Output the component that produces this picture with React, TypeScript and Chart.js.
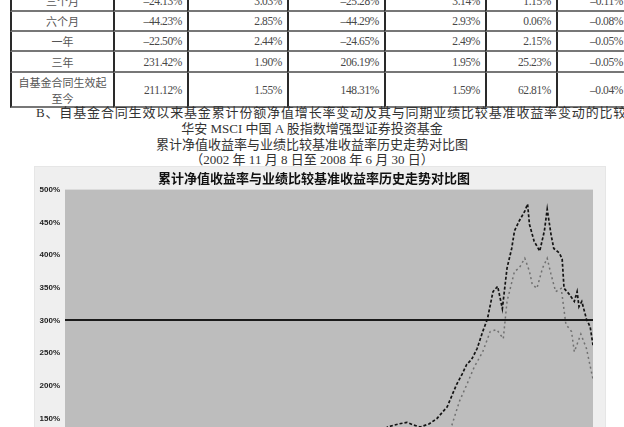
import React, { useEffect, useRef } from "react";
import { Chart, registerables } from "chart.js";

Chart.register(...registerables);

// ---- table data ----
const periods = ["三个月", "六个月", "一年", "三年", "自基金合同生效起\n至今"];
const navGrowth = ["–24.13%", "–44.23%", "–22.50%", "231.42%", "211.12%"];
const navStd = ["3.03%", "2.85%", "2.44%", "1.90%", "1.55%"];
const benchReturn = ["–25.28%", "–44.29%", "–24.65%", "206.19%", "148.31%"];
const benchStd = ["3.14%", "2.93%", "2.49%", "1.95%", "1.59%"];
const diffReturn = ["1.15%", "0.06%", "2.15%", "25.23%", "62.81%"];
const diffStd = ["–0.11%", "–0.08%", "–0.05%", "–0.05%", "–0.04%"];

// ---- chart data (x = decimal year) ----
const fundDates = [2002.85, 2003.0, 2003.2, 2003.35, 2003.6, 2003.85, 2004.05, 2004.25, 2004.5, 2004.75, 2005.0, 2005.2, 2005.45, 2005.65, 2005.9, 2006.05, 2006.18, 2006.3, 2006.43, 2006.51, 2006.58, 2006.65, 2006.75, 2006.83, 2006.94, 2006.99, 2007.04, 2007.1, 2007.15, 2007.2, 2007.26, 2007.32, 2007.37, 2007.43, 2007.48, 2007.53, 2007.58, 2007.63, 2007.66, 2007.71, 2007.77, 2007.8, 2007.82, 2007.87, 2007.93, 2007.98, 2008.01, 2008.05, 2008.08, 2008.14, 2008.17, 2008.19, 2008.24, 2008.3, 2008.33, 2008.35, 2008.38, 2008.43, 2008.47, 2008.5];
const fundReturns = [0, -3, 6, 10, 2, -4, 8, 14, 0, -6, -10, -14, -18, -10, -4, 40, 95, 137, 142, 144, 140, 137, 142, 150, 168, 185, 202, 218, 233, 240, 257, 283, 302, 344, 352, 318, 380, 410, 437, 452, 467, 478, 447, 421, 406, 437, 470, 432, 410, 403, 394, 349, 341, 329, 344, 321, 329, 302, 290, 262];

const benchDates = [2002.85, 2003.0, 2003.2, 2003.35, 2003.6, 2003.85, 2004.05, 2004.25, 2004.5, 2004.75, 2005.0, 2005.2, 2005.45, 2005.65, 2005.9, 2006.05, 2006.18, 2006.3, 2006.43, 2006.55, 2006.65, 2006.75, 2006.86, 2006.99, 2007.07, 2007.15, 2007.23, 2007.32, 2007.4, 2007.47, 2007.54, 2007.58, 2007.66, 2007.71, 2007.77, 2007.82, 2007.85, 2007.9, 2007.96, 2008.01, 2008.05, 2008.1, 2008.16, 2008.21, 2008.27, 2008.3, 2008.37, 2008.43, 2008.47, 2008.5];
const benchReturns = [0, -5, 3, 6, -3, -9, 2, 7, -6, -12, -16, -20, -26, -16, -12, 25, 75, 100, 108, 112, 106, 110, 118, 140, 176, 202, 229, 252, 283, 286, 272, 329, 375, 380, 395, 375, 355, 349, 380, 395, 371, 344, 349, 294, 283, 252, 279, 257, 230, 210];

const yMin = -100;
const yMax = 500;
const yStep = 50;
const referenceLine = 300;
const chartTitle = "累计净值收益率与业绩比较基准收益率历史走势对比图";

const colWidths = [103, 74, 100, 97, 101, 71, 72];
const rowHeights = [21, 20, 20, 21, 35];

const bgPlugin = {
  id: "plotBg",
  beforeDraw(chart: any) {
    const { ctx, chartArea } = chart;
    ctx.save();
    ctx.fillStyle = "#bdbdbd";
    ctx.fillRect(chartArea.left, chartArea.top, chartArea.right - chartArea.left, chartArea.bottom - chartArea.top);
    ctx.restore();
  },
};

function ReturnChart() {
  const ref = useRef<HTMLCanvasElement | null>(null);
  useEffect(() => {
    if (!ref.current) return;
    const chart = new Chart(ref.current, {
      type: "line",
      data: {
        datasets: [
          {
            label: "基金累计净值收益率",
            data: fundDates.map((x, i) => ({ x, y: fundReturns[i] })),
            borderColor: "#141414",
            borderWidth: 1.7,
            borderDash: [3, 2],
            pointRadius: 0,
            tension: 0,
          },
          {
            label: "业绩比较基准收益率",
            data: benchDates.map((x, i) => ({ x, y: benchReturns[i] })),
            borderColor: "#707070",
            borderWidth: 1.5,
            borderDash: [2, 3],
            pointRadius: 0,
            tension: 0,
          },
        ],
      },
      options: {
        animation: false,
        responsive: false,
        maintainAspectRatio: false,
        layout: { padding: { top: 0, right: 12, bottom: 20, left: 0 } },
        plugins: {
          legend: { display: false },
          tooltip: { enabled: false },
          title: {
            display: true,
            text: chartTitle,
            color: "#111",
            font: { size: 13, weight: "bold", family: "'Noto Sans CJK SC'" },
            padding: { top: 3, bottom: 4 },
          },
        },
        scales: {
          x: { type: "linear", min: 2002.85, max: 2008.5, display: false },
          y: {
            min: yMin,
            max: yMax,
            ticks: {
              stepSize: yStep,
              callback: (v: any) => v + "%",
              color: "#222",
              font: { size: 8, weight: "bold", family: "'Liberation Sans'" },
              padding: 5,
            },
            grid: {
              drawTicks: false,
              lineWidth: 2,
              color: (c: any) => (c.tick && c.tick.value === referenceLine ? "#1a1a1a" : "rgba(0,0,0,0)"),
            },
            border: { display: false },
            afterFit: (s: any) => {
              s.width = 30;
            },
          },
        },
      } as any,
      plugins: [bgPlugin],
    });
    return () => chart.destroy();
  }, []);
  return <canvas ref={ref} width={570} height={435} style={{ width: 570, height: 435, display: "block" }} />;
}

export default function App() {
  const cols = [periods, navGrowth, navStd, benchReturn, benchStd, diffReturn, diffStd];
  const cells: React.ReactNode[] = [];
  let top = -9;
  rowHeights.forEach((h, r) => {
    let left = 10;
    colWidths.forEach((w, c) => {
      const text = cols[c][r];
      const isFirst = c === 0;
      cells.push(
        <div
          key={r + "-" + c}
          style={{
            position: "absolute",
            left,
            top,
            width: w,
            height: h,
            boxSizing: "border-box",
            borderLeft: "2px solid #2a2a2a",
            borderBottom: "2px solid #777",
            display: "flex",
            alignItems: "center",
            justifyContent: isFirst ? "center" : "flex-end",
            paddingRight: isFirst ? 0 : 5,
            textAlign: "center",
            whiteSpace: "pre-line",
            fontFamily: isFirst ? "'Noto Sans CJK SC'" : "'Liberation Serif', serif",
            fontSize: isFirst ? 11 : 11.5,
            lineHeight: isFirst ? "16px" : "14px",
            letterSpacing: isFirst ? 0 : -0.4,
            color: isFirst ? "#555" : "#484848",
          }}
        >
          {text}
        </div>
      );
      left += w;
    });
    top += h;
  });

  const textBase: React.CSSProperties = {
    position: "absolute",
    whiteSpace: "nowrap",
    fontFamily: "'Liberation Serif', 'Noto Sans CJK SC', serif",
    fontSize: 13,
    lineHeight: "15px",
    color: "#333",
  };

  return (
    <div style={{ position: "fixed", left: 0, top: 0, width: 624, height: 427, overflow: "hidden", background: "#fff" }}>
      {cells}
      <div style={{ ...textBase, left: 36, top: 105, letterSpacing: 0.85 }}>
        B、自基金合同生效以来基金累计份额净值增长率变动及其与同期业绩比较基准收益率变动的比较
      </div>
      <div style={{ ...textBase, left: 0, width: 624, textAlign: "center", top: 121 }}>
        华安 MSCI 中国 A 股指数增强型证券投资基金
      </div>
      <div style={{ ...textBase, left: 0, width: 624, textAlign: "center", top: 137 }}>
        累计净值收益率与业绩比较基准收益率历史走势对比图
      </div>
      <div style={{ ...textBase, left: 0, width: 624, textAlign: "center", top: 152 }}>
        （2002 年 11 月 8 日至 2008 年 6 月 30 日）
      </div>
      <div
        style={{
          position: "absolute",
          left: 35,
          top: 167,
          width: 570,
          height: 435,
          background: "#efefef",
          boxShadow: "0 0 0 1px #e6e6e6",
        }}
      >
        <ReturnChart />
      </div>
    </div>
  );
}
